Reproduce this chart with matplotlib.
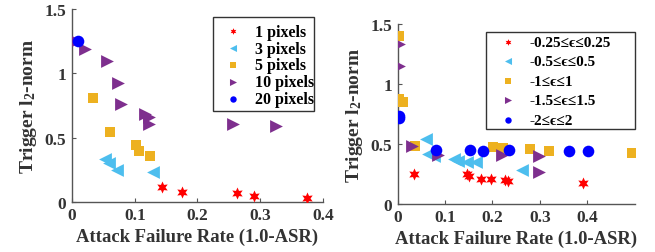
import matplotlib
matplotlib.use("Agg")
import matplotlib.pyplot as plt
from matplotlib.patches import Rectangle

plt.rcParams['font.family'] = ['Liberation Serif', 'DejaVu Serif']
plt.rcParams['font.weight'] = 'bold'
plt.rcParams['mathtext.fontset'] = 'custom'
plt.rcParams['mathtext.rm'] = 'Liberation Serif:bold'
plt.rcParams['mathtext.it'] = 'Liberation Serif:italic:bold'
plt.rcParams['mathtext.bf'] = 'Liberation Serif:bold'

# ---- Left panel data (trigger size) ----
left_labels = ['1 pixels', '3 pixels', '5 pixels', '10 pixels', '20 pixels']
l1_x = [0.143, 0.175, 0.263, 0.290, 0.374]
l1_y = [0.119, 0.078, 0.073, 0.044, 0.029]
l3_x = [0.053, 0.059, 0.072, 0.129]
l3_y = [0.334, 0.303, 0.249, 0.236]
l5_x = [0.033, 0.061, 0.102, 0.107, 0.124]
l5_y = [0.810, 0.542, 0.443, 0.399, 0.360]
l10_x = [0.007, 0.021, 0.055, 0.073, 0.078, 0.116, 0.123, 0.123, 0.257, 0.325]
l10_y = [1.253, 1.190, 1.100, 0.927, 0.764, 0.684, 0.658, 0.605, 0.610, 0.589]
l20_x = [0.0095]
l20_y = [1.254]

# ---- Right panel data (epsilon range) ----
right_labels = ['-0.25≤ϵ≤0.25', '-0.5≤ϵ≤0.5', '-1≤ϵ≤1', '-1.5≤ϵ≤1.5', '-2≤ϵ≤2']
r1_x = [0.035, 0.146, 0.151, 0.176, 0.196, 0.227, 0.232, 0.390]
r1_y = [0.250, 0.250, 0.236, 0.206, 0.206, 0.200, 0.189, 0.178]
r2_x = [0.060, 0.065, 0.077, 0.118, 0.127, 0.146, 0.165, 0.262]
r2_y = [0.540, 0.417, 0.400, 0.375, 0.361, 0.353, 0.353, 0.283]
r3_x = [0.002, 0.003, 0.012, 0.037, 0.202, 0.222, 0.279, 0.320, 0.494]
r3_y = [1.397, 0.875, 0.853, 0.486, 0.478, 0.467, 0.458, 0.444, 0.422]
r4_x = [0.004, 0.004, 0.030, 0.086, 0.220, 0.299, 0.299]
r4_y = [1.333, 1.153, 0.486, 0.411, 0.411, 0.397, 0.269]
r5_x = [0.002, 0.003, 0.080, 0.153, 0.181, 0.235, 0.361, 0.401]
r5_y = [0.736, 0.714, 0.453, 0.453, 0.444, 0.450, 0.444, 0.439]

colors = ['#FF0000', '#4DBEEE', '#EDB120', '#7E2F8E', '#0000FF']
markers = [(6, 1, 0), '<', 's', '>', 'o']
sizes = [75, 85, 45, 85, 70]

W, H = 655, 253
fig = plt.figure(figsize=(6.55, 2.53), dpi=100)
axL = fig.add_axes([0.110, 0.198, 0.383, 0.762])
axR = fig.add_axes([0.607, 0.190, 0.362, 0.711])

left_series = [(l1_x, l1_y), (l3_x, l3_y), (l5_x, l5_y), (l10_x, l10_y), (l20_x, l20_y)]
right_series = [(r1_x, r1_y), (r2_x, r2_y), (r3_x, r3_y), (r4_x, r4_y), (r5_x, r5_y)]

for ax, series, labels in [(axL, left_series, left_labels), (axR, right_series, right_labels)]:
    for (xs, ys), c, m, s, lab in zip(series, colors, markers, sizes, labels):
        ax.scatter(xs, ys, c=c, marker=m, s=s, linewidths=0, label=lab, zorder=3)
    for sp in ['top', 'right']:
        ax.spines[sp].set_visible(False)
    for sp in ['left', 'bottom']:
        ax.spines[sp].set_color('#555555')
        ax.spines[sp].set_linewidth(1.0)
    ax.tick_params(direction='in', length=3, color='#555555', labelsize=12.5, pad=4)
    ax.set_ylim(0, 1.5)
    ax.set_yticks([0, 0.5, 1, 1.5])
    ax.set_yticklabels(['0', '0.5', '1', '1.5'])
    ax.set_xticks([0, 0.1, 0.2, 0.3, 0.4])
    ax.set_xticklabels(['0', '0.1', '0.2', '0.3', '0.4'])
    ax.set_xlabel('Attack Failure Rate (1.0-ASR)', fontsize=13.4, fontweight='bold',
                  color='#333333', labelpad=3)
    ax.set_ylabel(r'Trigger l$_{2}$-norm', fontsize=14, fontweight='bold', color='#333333',
                  labelpad=4)
    for t in ax.get_xticklabels() + ax.get_yticklabels():
        t.set_color('#333333')
        t.set_fontweight('bold')

axL.set_xlim(0, 0.4)
axR.set_xlim(0, 0.5)

# legend frames (MATLAB-style boxes), pixel geometry -> figure fraction
def frame(ax, x0, y0, x1, y1):
    r = Rectangle((x0 / W, 1 - y1 / H), (x1 - x0) / W, (y1 - y0) / H,
                  transform=fig.transFigure, facecolor='white', edgecolor='#333333',
                  linewidth=1.0, zorder=4, clip_on=False)
    ax.add_patch(r)

frame(axL, 213, 18, 313.5, 111.5)
frame(axR, 486, 33, 634.5, 130)

legL = axL.legend(loc='center left', bbox_to_anchor=(225.3 / W, 1 - 66.5 / H),
                  bbox_transform=fig.transFigure, frameon=False, markerscale=0.55,
                  handletextpad=0.86, handlelength=1.0, labelspacing=0.06, borderpad=0.0,
                  borderaxespad=0.0, prop={'weight': 'bold', 'size': 11.5})
legR = axR.legend(loc='center left', bbox_to_anchor=(500.1 / W, 1 - 82.0 / H),
                  bbox_transform=fig.transFigure, frameon=False, markerscale=0.55,
                  handletextpad=0.9, handlelength=1.0, labelspacing=0.38, borderpad=0.0,
                  borderaxespad=0.0, prop={'weight': 'bold', 'size': 11})
legL.set_zorder(6)
legR.set_zorder(6)

fig.savefig('out.png', dpi=100)
